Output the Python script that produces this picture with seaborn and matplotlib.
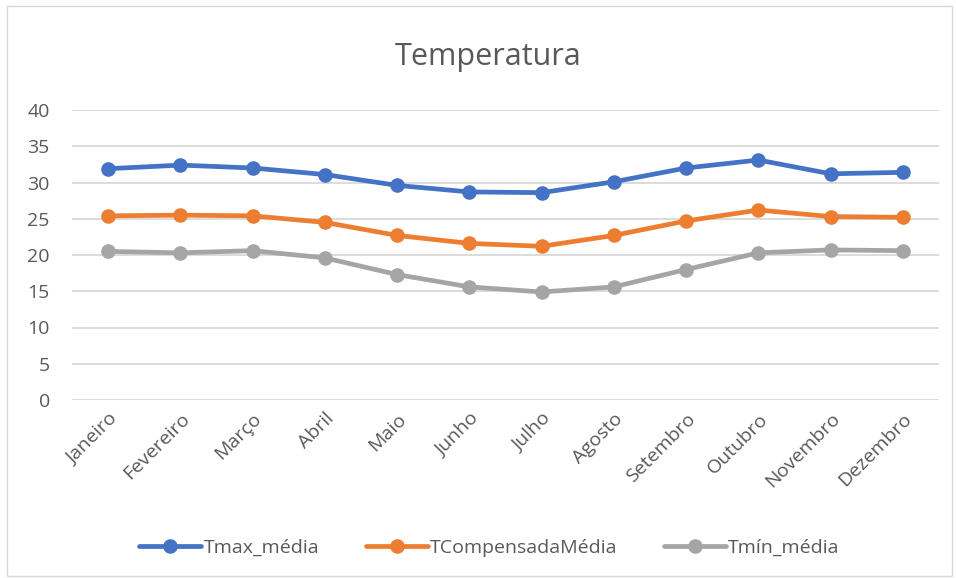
import pandas as pd
import matplotlib.pyplot as plt
import seaborn as sns

meses = ["Janeiro", "Fevereiro", "Março", "Abril", "Maio", "Junho",
         "Julho", "Agosto", "Setembro", "Outubro", "Novembro", "Dezembro"]
tmax_media = [31.9, 32.4, 32.0, 31.1, 29.6, 28.7, 28.6, 30.1, 32.0, 33.1, 31.2, 31.4]
tcomp_media = [25.4, 25.5, 25.4, 24.5, 22.7, 21.6, 21.2, 22.7, 24.7, 26.2, 25.3, 25.2]
tmin_media = [20.5, 20.3, 20.6, 19.6, 17.3, 15.6, 14.9, 15.6, 18.0, 20.3, 20.7, 20.6]

series = ["Tmax_média", "TCompensadaMédia", "Tmín_média"]
cores = ["#4472C4", "#ED7D31", "#A5A5A5"]

df = pd.DataFrame({"Mês": meses,
                   series[0]: tmax_media,
                   series[1]: tcomp_media,
                   series[2]: tmin_media})
longo = df.melt(id_vars="Mês", var_name="Série", value_name="Temperatura")

sns.set_style("white")
plt.rcParams["font.family"] = ["Open Sans", "DejaVu Sans"]

fig = plt.figure(figsize=(9.56, 5.78), dpi=100)
ax = fig.add_axes([72 / 956, 1 - 400 / 578, 867 / 956, 290 / 578])

sns.lineplot(data=longo, x="Mês", y="Temperatura", hue="Série",
             hue_order=series, palette=cores, marker="o", markersize=10.5,
             markeredgewidth=0, linewidth=3.4, sort=False, ax=ax)

ax.set_xlim(-0.5, len(meses) - 0.5)
ax.set_ylim(0, 40)
ax.set_yticks(range(0, 45, 5))
ax.yaxis.grid(True, color="#D9D9D9", linewidth=1.3)
ax.set_axisbelow(True)
for s in ax.spines.values():
    s.set_visible(False)
ax.tick_params(axis="both", length=0, labelsize=14, labelcolor="#595959")
ax.tick_params(axis="y", pad=16)
ax.tick_params(axis="x", pad=7)
plt.setp(ax.get_xticklabels(), rotation=45, ha="right", rotation_mode="anchor")
ax.set_xlabel("")
ax.set_ylabel("")

fig.text(0.511, 1 - 57 / 578, "Temperatura", ha="center", va="center",
         fontsize=22, color="#595959")

handles, labels = ax.get_legend_handles_labels()
ax.legend_.remove()
fig.legend(handles, labels, loc="center", bbox_to_anchor=(0.512, 1 - 548 / 578),
           ncol=3, frameon=False, fontsize=14, labelcolor="#595959",
           handlelength=3.2, handletextpad=0.1, columnspacing=2.4)

fig.patches.append(plt.Rectangle((7 / 956, 2 / 578), 945 / 956, 570 / 578,
                                 transform=fig.transFigure, fill=False,
                                 edgecolor="#D9D9D9", linewidth=1))

fig.savefig("out.png", dpi=100)
